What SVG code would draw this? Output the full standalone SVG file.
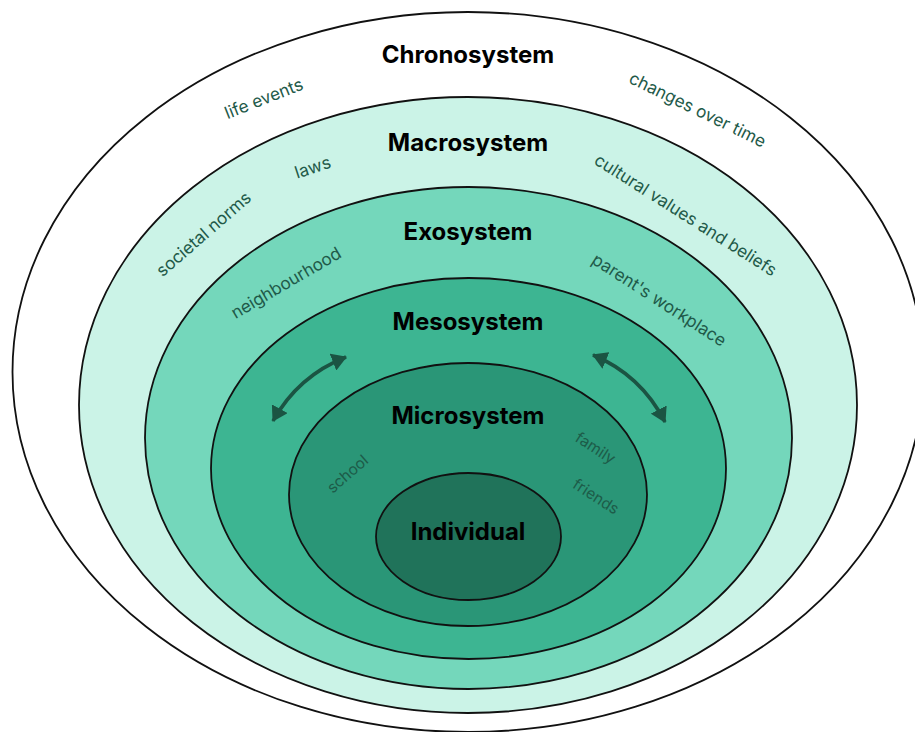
<svg xmlns="http://www.w3.org/2000/svg" width="915" height="732" viewBox="0 0 915 732">
  <style>
    .ring { stroke: #111; stroke-width: 1.8; }
    .title { font-family: Inter, "Liberation Sans", sans-serif; font-weight: 700; font-size: 24px; fill: #000; text-anchor: middle; }
    .lbl { font-family: Inter, "Liberation Sans", sans-serif; font-size: 17.2px; fill: #1f5a49; text-anchor: middle; }
    .lbl-s { font-family: Inter, "Liberation Sans", sans-serif; font-size: 15.5px; fill: #1d5c49; text-anchor: middle; }
    .arrow { fill: none; stroke: #1b5443; stroke-width: 3.6; marker-start: url(#head); marker-end: url(#head); }
  </style>
  <defs>
    <marker id="head" viewBox="0 0 15 18" refX="14" refY="9" markerWidth="15" markerHeight="18" markerUnits="userSpaceOnUse" orient="auto-start-reverse">
      <path d="M0,0 L15,9 L0,18 Z" fill="#1b5443"/>
    </marker>
  </defs>
  <rect width="915" height="732" fill="#ffffff"/>

  <g id="chronosystem">
    <ellipse class="ring" cx="468" cy="372" rx="455.5" ry="360" fill="#ffffff"/>
    <text class="title" x="468" y="63">Chronosystem</text>
    <text class="lbl" transform="translate(266,104) rotate(-21.5)">life events</text>
    <text class="lbl" transform="translate(695,115) rotate(26)">changes over time</text>
  </g>

  <g id="macrosystem">
    <ellipse class="ring" cx="468" cy="405" rx="389" ry="308" fill="#cbf3e7"/>
    <text class="title" x="468" y="151">Macrosystem</text>
    <text class="lbl" transform="translate(314.5,173) rotate(-18)">laws</text>
    <text class="lbl" transform="translate(207.5,238.5) rotate(-41)">societal norms</text>
    <text class="lbl" transform="translate(682.5,220) rotate(32.4)">cultural values and beliefs</text>
  </g>

  <g id="exosystem">
    <ellipse class="ring" cx="468.5" cy="438" rx="323.5" ry="251" fill="#74d7bb"/>
    <text class="title" x="468" y="240">Exosystem</text>
    <text class="lbl" transform="translate(289,288) rotate(-30.3)">neighbourhood</text>
    <text class="lbl" transform="translate(656,305) rotate(32.8)">parent's workplace</text>
  </g>

  <g id="mesosystem">
    <ellipse class="ring" cx="468.5" cy="468.5" rx="257.5" ry="190.5" fill="#3db592"/>
    <text class="title" x="468" y="330">Mesosystem</text>
  </g>

  <g id="microsystem">
    <ellipse class="ring" cx="468" cy="494.5" rx="179" ry="131.5" fill="#2a9677"/>
    <text class="title" x="468" y="424">Microsystem</text>
    <text class="lbl-s" transform="translate(351,478) rotate(-41)">school</text>
    <text class="lbl-s" transform="translate(592.5,452.5) rotate(33)">family</text>
    <text class="lbl-s" transform="translate(593,501) rotate(33)">friends</text>
  </g>

  <g id="individual">
    <ellipse class="ring" cx="468.5" cy="536.5" rx="92.5" ry="63.5" fill="#20735a"/>
    <text class="title" x="468" y="540">Individual</text>
  </g>

  <g id="connectors">
    <path class="arrow" d="M273,421 Q298,376 346,357"/>
    <path class="arrow" d="M593,355 Q641,375 665,422"/>
  </g>
</svg>
